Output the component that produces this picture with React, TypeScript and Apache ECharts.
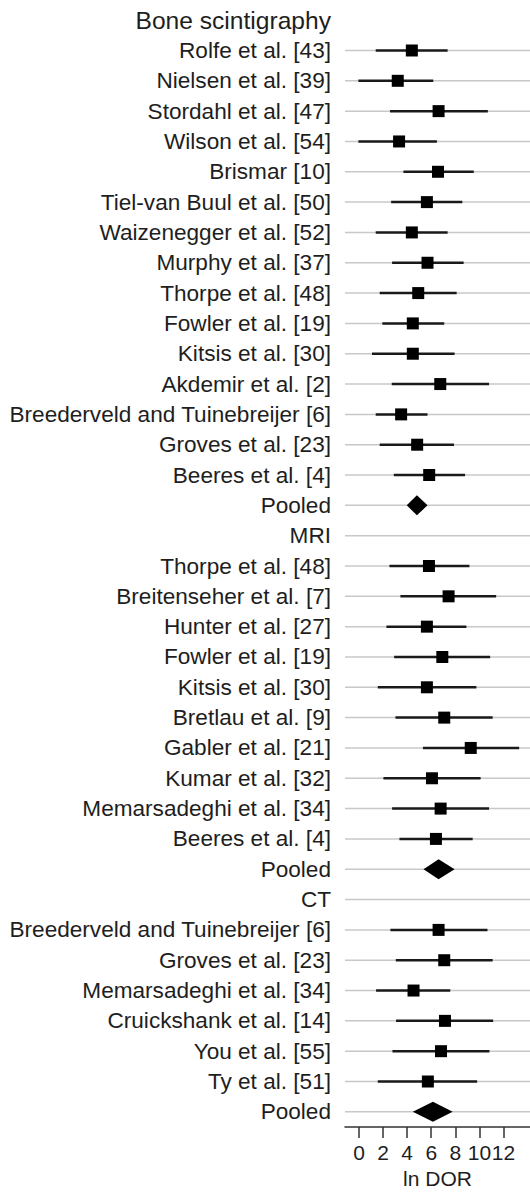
import React, { useEffect, useRef } from "react";
import * as echarts from "echarts";

// Row labels (top to bottom)
const labels: string[] = [
  "Bone scintigraphy",
  "Rolfe et al. [43]",
  "Nielsen et al. [39]",
  "Stordahl et al. [47]",
  "Wilson et al. [54]",
  "Brismar [10]",
  "Tiel-van Buul et al. [50]",
  "Waizenegger et al. [52]",
  "Murphy et al. [37]",
  "Thorpe et al. [48]",
  "Fowler et al. [19]",
  "Kitsis et al. [30]",
  "Akdemir et al. [2]",
  "Breederveld and Tuinebreijer [6]",
  "Groves et al. [23]",
  "Beeres et al. [4]",
  "Pooled",
  "MRI",
  "Thorpe et al. [48]",
  "Breitenseher et al. [7]",
  "Hunter et al. [27]",
  "Fowler et al. [19]",
  "Kitsis et al. [30]",
  "Bretlau et al. [9]",
  "Gabler et al. [21]",
  "Kumar et al. [32]",
  "Memarsadeghi et al. [34]",
  "Beeres et al. [4]",
  "Pooled",
  "CT",
  "Breederveld and Tuinebreijer [6]",
  "Groves et al. [23]",
  "Memarsadeghi et al. [34]",
  "Cruickshank et al. [14]",
  "You et al. [55]",
  "Ty et al. [51]",
  "Pooled",
];

// h = header, s = study, p = pooled
const kinds: string[] = [
  "h", "s", "s", "s", "s", "s", "s", "s", "s", "s", "s", "s", "s", "s", "s", "s", "p",
  "h", "s", "s", "s", "s", "s", "s", "s", "s", "s", "s", "p",
  "h", "s", "s", "s", "s", "s", "s", "p",
];

// ln DOR point estimates
const estimates: (number | null)[] = [
  null, 4.39, 3.22, 6.61, 3.33, 6.56, 5.64, 4.39, 5.69, 4.92, 4.47, 4.47, 6.75, 3.5, 4.83, 5.83, 4.81,
  null, 5.81, 7.44, 5.64, 6.92, 5.64, 7.08, 9.28, 6.06, 6.78, 6.39, 6.61,
  null, 6.61, 7.08, 4.53, 7.14, 6.81, 5.72, 6.14,
];

// lower 95% CI
const lower: (number | null)[] = [
  null, 1.39, -0.05, 2.58, -0.05, 3.69, 2.67, 1.39, 2.75, 1.72, 1.94, 1.08, 2.72, 1.39, 1.72, 2.89, 3.97,
  null, 2.53, 3.44, 2.28, 2.92, 1.56, 3.03, 5.31, 2.03, 2.75, 3.36, 5.36,
  null, 2.61, 3.06, 1.42, 3.08, 2.78, 1.56, 4.47,
];

// upper 95% CI
const upper: (number | null)[] = [
  null, 7.36, 6.17, 10.7, 6.47, 9.53, 8.58, 7.36, 8.69, 8.11, 7.08, 7.94, 10.8, 5.69, 7.89, 8.81, 5.69,
  null, 9.17, 11.39, 8.92, 10.89, 9.75, 11.1, 13.3, 10.1, 10.8, 9.44, 7.94,
  null, 10.67, 11.1, 7.58, 11.14, 10.83, 9.81, 7.78,
];

const xTicks: number[] = [0, 2, 4, 6, 8, 10, 12];

const FONT = "'Liberation Sans', Arial, Helvetica, sans-serif";

export default function App() {
  const ref = useRef<HTMLDivElement>(null);

  useEffect(() => {
    if (!ref.current) return;
    const chart = echarts.init(ref.current, null, { renderer: "svg" });

    const data = labels.map((_, i) => [
      i,
      estimates[i] ?? 0,
      lower[i] ?? 0,
      upper[i] ?? 0,
      kinds[i] === "h" ? 0 : kinds[i] === "s" ? 1 : 2,
    ]);

    const option: any = {
      animation: false,
      backgroundColor: "#ffffff",
      grid: {
        left: 345,
        right: 0,
        top: 5,
        bottom: 65,
        outerBoundsMode: "none",
      },
      xAxis: {
        type: "value",
        min: -1.16,
        max: 14.2,
        name: "ln DOR",
        nameLocation: "middle",
        nameGap: 41,
        nameTextStyle: { fontSize: 21, color: "#1e1e1e", fontFamily: FONT },
        axisLine: { show: true, lineStyle: { color: "#333", width: 1.5 } },
        axisTick: {
          show: true,
          customValues: xTicks,
          length: 11,
          lineStyle: { color: "#333", width: 1.5 },
        },
        axisLabel: {
          customValues: xTicks,
          fontSize: 21,
          color: "#1e1e1e",
          fontFamily: FONT,
          margin: 15,
          formatter: (v: number) => String(v),
        },
        splitLine: { show: false },
      },
      yAxis: {
        type: "category",
        inverse: true,
        data: labels,
        axisLine: { show: false },
        axisTick: { show: false },
        splitLine: { show: false },
        axisLabel: {
          interval: 0,
          fontSize: 22.6,
          color: "#1e1e1e",
          fontFamily: FONT,
          margin: 14,
          formatter: (v: string, i: number) => (i === 0 ? `{big|${v}}` : v),
          rich: {
            big: { fontSize: 24.6, color: "#1e1e1e", fontFamily: FONT },
          },
        },
      },
      series: [
        {
          type: "custom",
          coordinateSystem: "cartesian2d",
          encode: { x: [1, 2, 3], y: 0 },
          clip: false,
          renderItem: (params: any, api: any) => {
            const row = api.value(0);
            const kind = api.value(4);
            const cs = params.coordSys;
            const yPix = api.coord([0, row])[1];
            const children: any[] = [];
            if (row !== 0) {
              children.push({
                type: "line",
                shape: { x1: cs.x, y1: yPix, x2: cs.x + cs.width, y2: yPix },
                style: { stroke: "#c8c8c8", lineWidth: 1.5 },
              });
            }
            if (kind === 1) {
              const pE = api.coord([api.value(1), row]);
              const pL = api.coord([api.value(2), row]);
              const pH = api.coord([api.value(3), row]);
              children.push({
                type: "line",
                shape: { x1: pL[0], y1: yPix, x2: pH[0], y2: yPix },
                style: { stroke: "#1a1a1a", lineWidth: 2.5 },
              });
              const s = 12;
              children.push({
                type: "rect",
                shape: { x: pE[0] - s / 2, y: yPix - s / 2, width: s, height: s },
                style: { fill: "#000" },
              });
            } else if (kind === 2) {
              const pE = api.coord([api.value(1), row]);
              const pL = api.coord([api.value(2), row]);
              const pH = api.coord([api.value(3), row]);
              const hh = 10;
              children.push({
                type: "polygon",
                shape: {
                  points: [
                    [pL[0], yPix],
                    [pE[0], yPix - hh],
                    [pH[0], yPix],
                    [pE[0], yPix + hh],
                  ],
                },
                style: { fill: "#000" },
              });
            }
            return { type: "group", children };
          },
          data,
        },
      ],
    };

    chart.setOption(option);
    return () => chart.dispose();
  }, []);

  return (
    <div
      ref={ref}
      style={{ position: "absolute", left: 0, top: 0, width: 530, height: 1192 }}
    />
  );
}
